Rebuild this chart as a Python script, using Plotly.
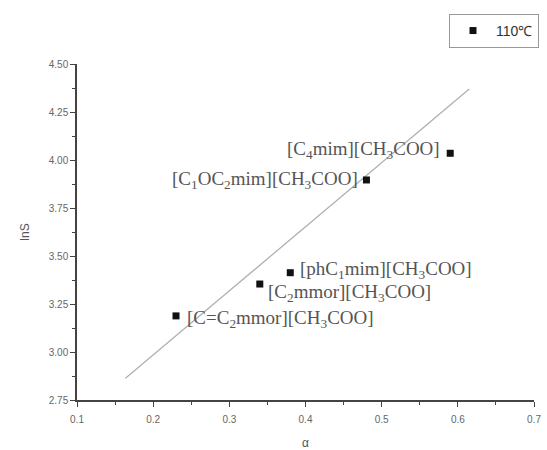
import plotly.graph_objects as go

# Ionic liquids: Kamlet-Taft alpha vs ln S at 110 °C
labels = [
    "[C<sub>4</sub>mim][CH<sub>3</sub>COO]",
    "[C<sub>1</sub>OC<sub>2</sub>mim][CH<sub>3</sub>COO]",
    "[phC<sub>1</sub>mim][CH<sub>3</sub>COO]",
    "[C<sub>2</sub>mmor][CH<sub>3</sub>COO]",
    "[C=C<sub>2</sub>mmor][CH<sub>3</sub>COO]",
]
alpha = [0.59, 0.48, 0.38, 0.34, 0.23]
lnS = [4.035, 3.896, 3.413, 3.354, 3.188]

# straight trend line endpoints
line_alpha = [0.1636, 0.615]
line_lnS = [2.863, 4.37]

x_ticks = [0.1, 0.2, 0.3, 0.4, 0.5, 0.6, 0.7]
y_ticks = [2.75, 3.00, 3.25, 3.50, 3.75, 4.00, 4.25, 4.50]

fig = go.Figure()
fig.add_trace(go.Scatter(
    x=line_alpha, y=line_lnS, mode="lines",
    line=dict(color="#b0b0b0", width=1.3), showlegend=False, hoverinfo="skip"))
fig.add_trace(go.Scatter(
    x=alpha, y=lnS, mode="markers", name="110\u2103",
    marker=dict(symbol="square", size=7, color="#111111")))

# label placement relative to each point: (xshift, yshift, xanchor)
placements = [
    (-8, 3, "right"),
    (-6, 0, "right"),
    (8, 3, "left"),
    (6, -9, "left"),
    (9, -3, "left"),
]
for lab, xa, ya, (dx, dy, anc) in zip(labels, alpha, lnS, placements):
    fig.add_annotation(
        x=xa, y=ya, xref="x", yref="y", text=lab, showarrow=False,
        xanchor=anc, yanchor="middle", xshift=dx, yshift=dy,
        font=dict(family="Liberation Serif, Times New Roman, serif", size=19, color="#555555"))

axis_common = dict(
    showgrid=False, zeroline=False, showline=True, linecolor="#444444", linewidth=1.5,
    ticks="outside", ticklen=5, tickwidth=1.2, tickcolor="#444444",
    tickfont=dict(family="Liberation Sans, Arial, sans-serif", size=10, color="#666666"),
    title_font=dict(family="Liberation Sans, Arial, sans-serif", size=12, color="#555555"),
)
fig.update_xaxes(
    range=[0.1, 0.7], tickvals=x_ticks, ticktext=[f"{v:g}" for v in x_ticks],
    title_text="\u03b1", title_standoff=15, ticklabelstandoff=4,
    minor=dict(ticks="outside", ticklen=3, tickcolor="#444444", dtick=0.05, tick0=0.1),
    **axis_common)
fig.update_yaxes(
    range=[2.75, 4.5], tickvals=y_ticks, ticktext=[f"{v:.2f}" for v in y_ticks],
    title_text="lnS", title_standoff=17,
    minor=dict(ticks="outside", ticklen=3, tickcolor="#444444", dtick=0.125, tick0=2.75),
    **axis_common)

fig.update_layout(
    width=547, height=450,
    margin=dict(l=77, r=13, t=64, b=50, autoexpand=False),
    paper_bgcolor="white", plot_bgcolor="white",
    legend=dict(
        x=0.814, y=1.149, xanchor="left", yanchor="top",
        bordercolor="#999999", borderwidth=1, bgcolor="white",
        font=dict(family="Liberation Sans, Arial, sans-serif", size=14, color="#333333"),
        itemwidth=36, tracegroupgap=0),
    showlegend=True,
)

fig.write_html("out.html")
